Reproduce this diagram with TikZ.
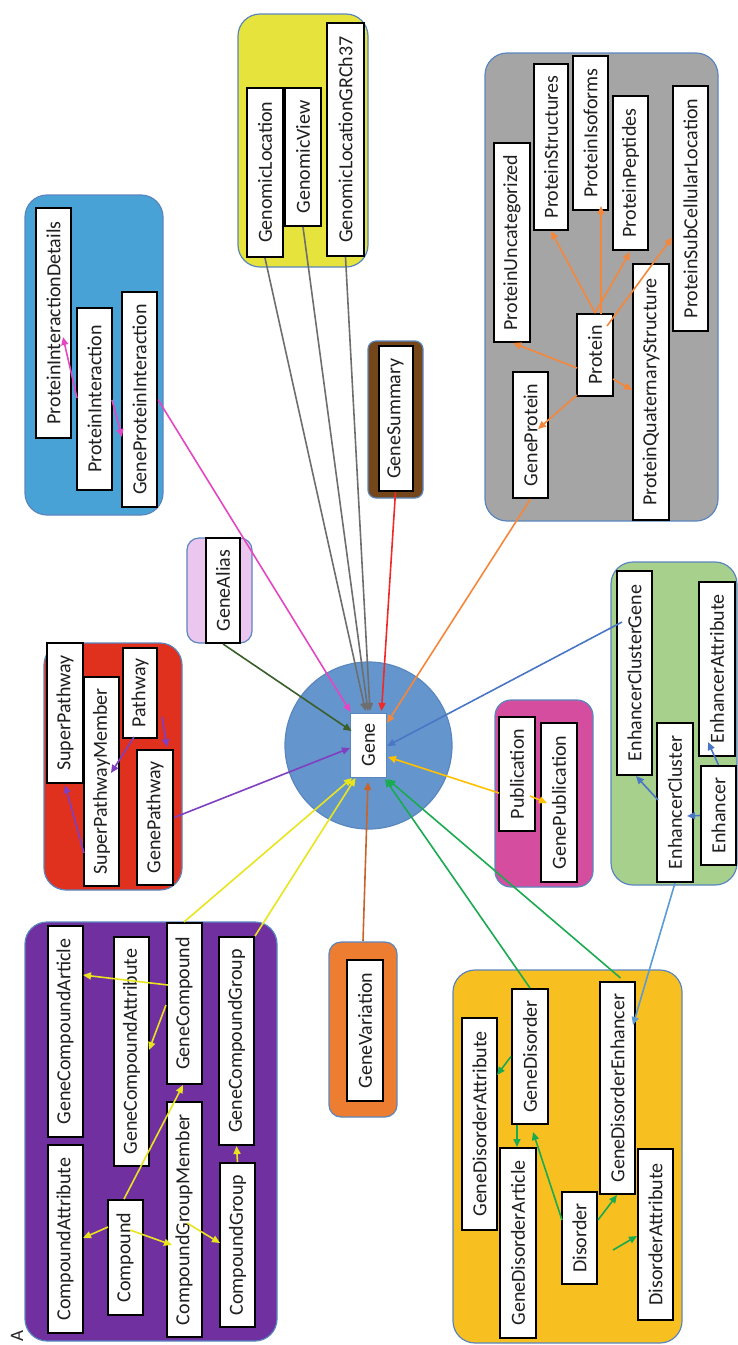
\documentclass[tikz,border=0pt]{standalone}
\usepackage{fontspec}
\setmainfont{Carlito}
\usetikzlibrary{arrows.meta,calc}
\definecolor{grpborder}{HTML}{5A86BF}
\definecolor{fpurple}{HTML}{7030A0}
\definecolor{fred}{HTML}{E0301E}
\definecolor{fblue}{HTML}{49A2D6}
\definecolor{fpink}{HTML}{EBC6EE}
\definecolor{fyellow}{HTML}{E6E43C}
\definecolor{fbrown}{HTML}{74461A}
\definecolor{fgray}{HTML}{A5A5A5}
\definecolor{fcircle}{HTML}{6496CD}
\definecolor{fmagenta}{HTML}{D54D9F}
\definecolor{fgreen}{HTML}{A8D08D}
\definecolor{fgold}{HTML}{F8BF21}
\definecolor{forange}{HTML}{ED7D31}
\definecolor{cpink}{HTML}{E347C2}
\definecolor{cgray}{HTML}{6E6E6E}
\definecolor{cred}{HTML}{F02828}
\definecolor{corange}{HTML}{F5873A}
\definecolor{cdkgreen}{HTML}{3B5E2B}
\definecolor{cpurple}{HTML}{7F3FBF}
\definecolor{cblue}{HTML}{4A76C6}
\definecolor{cgold}{HTML}{FFC000}
\definecolor{cyellow}{HTML}{E8E51E}
\definecolor{cbrown}{HTML}{C8642A}
\definecolor{cgreen}{HTML}{1AAA50}
\definecolor{cltblue}{HTML}{5B9BD5}
\begin{document}
\begin{tikzpicture}[x=1pt,y=-1pt,
  box/.style={draw=black, line width=2pt, fill=white, rotate=90, inner sep=0pt,
    minimum height=35pt, text=black!88, font=\fontsize{20}{20}\selectfont},
  grp/.style={draw=grpborder, line width=1.2pt, rounded corners=22pt},
  con/.style={line width=1.6pt, -{Triangle[length=8pt,width=7pt]}},
  free/.style={inner sep=0pt, minimum size=0pt}]
\useasboundingbox (0,0) rectangle (738,1345);

% ---------- group backgrounds ----------
\draw[grp, fill=fpurple] (25,922) rectangle (277,1341);
\draw[grp, fill=fred] (44,643) rectangle (182,890);
\draw[grp, fill=fblue] (25,195) rectangle (163,515);
\draw[grp, fill=fpink, rounded corners=12pt] (187,538) rectangle (252,643);
\draw[grp, fill=fyellow] (238,14) rectangle (368,267);
\draw[grp, fill=fbrown, rounded corners=8pt] (368,341) rectangle (423,498);
\draw[grp, fill=fgray] (485,53) rectangle (718,521);
\draw[grp, fill=fmagenta, rounded corners=16pt] (495,700) rectangle (593,887);
\draw[grp, fill=fgreen] (611,562) rectangle (737,885);
\draw[grp, fill=fgold] (453,970) rectangle (682,1343);
\draw[grp, fill=forange, rounded corners=12pt] (329,942) rectangle (397,1117);
\draw[draw=grpborder, line width=1.2pt, fill=fcircle] (368.5,745.5) circle[radius=83.5];

% ---------- nodes ----------
\node[box, draw=grpborder, line width=0.9pt, minimum width=64pt, minimum height=36pt] (gene) at (368.5,745) {Gene};

% purple group
\node[box, minimum width=211pt] (gca) at (65,1031.5) {GeneCompoundArticle};
\node[box, minimum width=188pt] (cat) at (65,1239) {CompoundAttribute};
\node[box, minimum width=229pt] (gcat) at (131.5,1051.5) {GeneCompoundAttribute};
\node[box, minimum width=115pt] (cmp) at (125,1257.5) {Compound};
\node[box, minimum width=161pt] (gc) at (184,1003.5) {GeneCompound};
\node[box, minimum width=235pt] (cgm) at (184,1219.5) {CompoundGroupMember};
\node[box, minimum width=208pt] (gcg) at (236.5,1041) {GeneCompoundGroup};
\node[box, minimum width=164pt] (cg) at (237.5,1245) {CompoundGroup};

% red group
\node[box, minimum width=140pt, minimum height=36pt] (sp) at (65,713) {SuperPathway};
\node[box, minimum width=209pt] (spm) at (101.5,781.5) {SuperPathwayMember};
\node[box, minimum width=90pt, minimum height=34pt] (pw) at (140,693) {Pathway};
\node[box, minimum width=135pt, minimum height=36pt] (gp) at (155,817.5) {GenePathway};

% blue group
\node[box, minimum width=230pt] (pid) at (53.5,323) {ProteinInteractionDetails};
\node[box, minimum width=182pt] (pi) at (94.5,399) {ProteinInteraction};
\node[box, minimum width=215pt] (gpi) at (139.5,399.5) {GeneProteinInteraction};

% gene alias
\node[box, minimum width=105pt, minimum height=34pt] (ga) at (223,590.5) {GeneAlias};

% genomic group
\node[box, minimum width=169.5pt, minimum height=36pt] (gl) at (265,172.25) {GenomicLocation};
\node[box, minimum width=138.5pt, minimum height=36pt] (gv) at (303,156.75) {GenomicView};
\node[box, minimum width=233pt, minimum height=37pt] (glg) at (345.5,139.5) {GenomicLocationGRCh37};

% gene summary
\node[box, minimum width=145pt, minimum height=34pt] (gs) at (395.5,418.5) {GeneSummary};

% protein group
\node[box, minimum width=199pt, minimum height=36pt] (pu) at (512,242.5) {ProteinUncategorized};
\node[box, minimum width=166pt, minimum height=34pt] (ps) at (551,147) {ProteinStructures};
\node[box, minimum width=154pt] (pis) at (590.5,133) {ProteinIsoforms};
\node[box, minimum width=154pt] (pp) at (630.5,173) {ProteinPeptides};
\node[box, minimum width=245pt] (pscl) at (690.5,208.5) {ProteinSubCellularLocation};
\node[box, minimum width=126pt] (gpr) at (530.5,435) {GeneProtein};
\node[box, minimum width=82pt, minimum height=36pt] (pr) at (595,355) {Protein};
\node[box, minimum width=256pt, minimum height=36pt] (pqs) at (651,392) {ProteinQuaternaryStructure};

% publication group
\node[box, minimum width=114pt, minimum height=36pt] (pub) at (517,774) {Publication};
\node[box, minimum width=159pt, minimum height=36pt] (gpub) at (559,802.5) {GenePublication};

% enhancer group
\node[box, minimum width=204pt] (ecg) at (634.5,673) {EnhancerClusterGene};
\node[box, minimum width=174pt, minimum height=36pt] (ea) at (717,669) {EnhancerAttribute};
\node[box, minimum width=159pt, minimum height=36pt] (ec) at (675,802.5) {EnhancerCluster};
\node[box, minimum width=99pt] (en) at (718.5,815.5) {Enhancer};

% disorder group
\node[box, minimum width=135pt, minimum height=36pt] (gd) at (530,1056.5) {GeneDisorder};
\node[box, minimum width=212pt] (gda) at (479.5,1124) {GeneDisorderAttribute};
\node[box, minimum width=190pt, minimum height=36pt] (gdar) at (518,1243) {GeneDisorderArticle};
\node[box, minimum width=92pt] (dis) at (579.5,1238) {Disorder};
\node[box, minimum width=212pt] (gde) at (617.5,1088) {GeneDisorderEnhancer};
\node[box, minimum width=171pt] (da) at (655.5,1234.5) {DisorderAttribute};

% gene variation
\node[box, minimum width=141pt, minimum height=36pt] (gvar) at (365,1030.5) {GeneVariation};

% panel label
\node[rotate=90, inner sep=0pt, text=black!85, font=\fontsize{19}{19}\selectfont] (lblA) at (17,1336) {A};

\coordinate (dafree) at (613,1250);

% ---------- connectors into Gene ----------
\draw[con, cpink] (gpi.south) -- ($(gene.center)+(-18,-33)$);
\draw[con, cgray] (gl.west) -- ($(gene.center)+(-3,-34)$);
\draw[con, cgray] (gv.west) -- ($(gene.center)+(-0.5,-34)$);
\draw[con, cgray] (glg.west) -- ($(gene.center)+(1.5,-34)$);
\draw[con, cred] (gs.west) -- ($(gene.center)+(13,-34)$);
\draw[con, corange] (gpr.west) -- ($(gene.center)+(18.5,-22)$);
\draw[con, cdkgreen] (ga.west) -- ($(gene.center)+(-17,-14)$);
\draw[con, cpurple] (gp.south) -- ($(gene.center)+(-18.5,3)$);
\draw[con, cblue] ($(ecg.center)+(-12.5,-51)$) -- ($(gene.center)+(18.5,1)$);
\draw[con, cgold] ($(pub.center)+(-18,19)$) -- ($(gene.center)+(19.5,12)$);
\draw[con, cyellow] (gc.east) -- ($(gene.center)+(-16.5,33)$);
\draw[con, cyellow] (gcg.south east) -- ($(gene.center)+(-13,33)$);
\draw[con, cbrown] ($(gvar.east)+(-2,-18)$) -- ($(gene.center)+(-0.5,37)$);
\draw[con, cgreen] (gd.east) -- ($(gene.center)+(16.5,34)$);
\draw[con, cgreen] ($(gde.east)+(3,-3)$) -- ($(gene.center)+(19,34)$);
\draw[con, cltblue] (ec.west) -- ($(gde.center)+(15.5,-63)$);

% ---------- purple group arrows ----------
\draw[con, cyellow] ($(gc.center)+(-16,-18.5)$) -- ($(gca.center)+(18,-56.5)$);
\draw[con, cyellow] ($(gc.center)+(-18,1.5)$) -- ($(gcat.center)+(17.5,-1.5)$);
\draw[con, cyellow] ($(cmp.center)+(-1,-58.5)$) -- ($(gc.center)+(-1,81.5)$);
\draw[con, cyellow] ($(cmp.center)+(-17,-30.5)$) -- ($(cat.center)+(18,-1)$);
\draw[con, cyellow] ($(cmp.center)+(5,-27.5)$) -- ($(cgm.center)+(-12,25.5)$);
\draw[con, cyellow] ($(cgm.center)+(3,3.5)$) -- ($(cg.center)+(-17.5,-2)$);
\draw[con, cyellow] (cg.east) -- (gcg.west);

% ---------- red group arrows ----------
\draw[con, cpurple] ($(pw.center)+(-6,44)$) -- ($(spm.center)+(9.5,-8.5)$);
\draw[con, cpurple] ($(pw.center)+(22,24)$) -- ($(gp.center)+(12,-70.5)$);
\draw[con, cpurple] ($(spm.center)+(-17.5,71.5)$) -- ($(sp.center)+(0,72)$);

% ---------- blue group arrows ----------
\draw[con, cpink] ($(pi.center)+(-17.5,-1)$) -- ($(pid.center)+(9.5,14)$);
\draw[con, cpink] ($(pi.center)+(17.5,1)$) -- ($(gpi.center)+(-17.5,37.5)$);

% ---------- protein group arrows ----------
\draw[con, corange] ($(pr.center)+(-18,13)$) -- ($(pu.center)+(1,100.5)$);
\draw[con, corange] ($(pr.center)+(-18,40)$) -- ($(gpr.center)+(7.5,-6)$);
\draw[con, corange] (pr.east) -- (ps.west);
\draw[con, corange] ($(pr.center)+(6,-41)$) -- ($(pis.center)+(10.5,73)$);
\draw[con, corange] (pr.east) -- ($(pp.center)+(-0.5,79)$);
\draw[con, corange] ($(pr.center)+(12,-29)$) -- ($(pscl.center)+(-18.5,29)$);
\draw[con, corange] ($(pr.center)+(18,24)$) -- ($(pqs.center)+(-19,-2)$);

% ---------- publication arrow ----------
\draw[con, cgold] ($(pub.center)+(13,22)$) -- ($(gpub.center)+(-12,0.5)$);

% ---------- enhancer group arrows ----------
\draw[con, cblue] ($(ec.center)+(-17,-2.5)$) -- ($(ecg.center)+(1.5,103)$);
\draw[con, cblue] (en.north) -- ($(ec.center)+(12,13.5)$);
\draw[con, cblue] (en.east) -- ($(ea.center)+(-9,73)$);

% ---------- disorder group arrows ----------
\draw[con, cgreen] (gd.north) -- ($(gda.center)+(17.5,-49)$);
\draw[con, cgreen] ($(gd.center)+(-13,68.5)$) -- ($(gdar.center)+(-1,-96)$);
\draw[con, cgreen] ($(dis.center)+(-17.5,-18)$) -- ($(gd.center)+(3,75.5)$);
\draw[con, cgreen] ($(dis.center)+(18.5,-18)$) -- ($(gde.center)+(-0.5,107)$);
\draw[con, cgreen] (dafree) -- ($(da.center)+(-18.5,1.5)$);
\end{tikzpicture}
\end{document}
